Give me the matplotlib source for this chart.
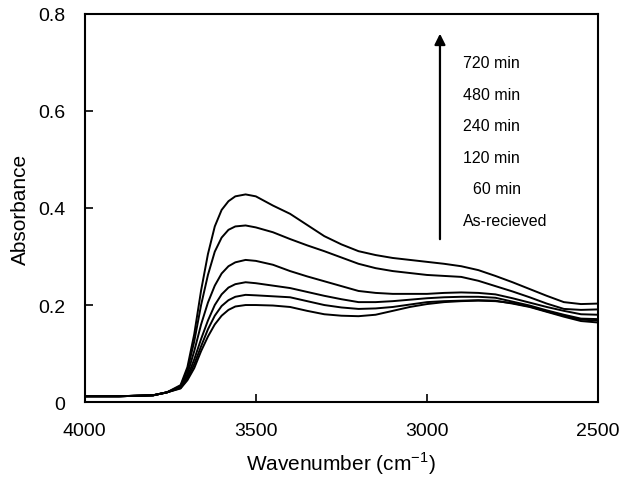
import matplotlib.pyplot as plt
import numpy as np

plt.rcParams['font.family'] = ['Liberation Sans', 'DejaVu Sans']
plt.rcParams['mathtext.fontset'] = 'custom'
plt.rcParams['mathtext.rm'] = 'Liberation Sans'

# wavenumber grid (cm-1)
wn = [4000, 3900, 3800, 3760, 3720, 3700, 3680, 3660, 3640, 3620, 3600, 3580,
      3560, 3530, 3500, 3450, 3400, 3350, 3300, 3250, 3200, 3150, 3100, 3050,
      3000, 2950, 2900, 2850, 2800, 2750, 2700, 2650, 2600, 2550, 2500]

abs_720 = [0.012, 0.012, 0.014, 0.020, 0.035, 0.072, 0.140, 0.230, 0.305, 0.362,
           0.396, 0.414, 0.424, 0.428, 0.424, 0.405, 0.388, 0.365, 0.342, 0.325,
           0.311, 0.303, 0.297, 0.293, 0.289, 0.285, 0.280, 0.272, 0.260, 0.247,
           0.233, 0.219, 0.206, 0.202, 0.203]
abs_480 = [0.012, 0.012, 0.014, 0.020, 0.033, 0.066, 0.125, 0.200, 0.262, 0.310,
           0.339, 0.355, 0.362, 0.364, 0.360, 0.350, 0.336, 0.323, 0.311, 0.298,
           0.285, 0.276, 0.270, 0.266, 0.262, 0.260, 0.258, 0.250, 0.239, 0.228,
           0.216, 0.203, 0.192, 0.190, 0.191]
abs_240 = [0.012, 0.012, 0.014, 0.020, 0.031, 0.058, 0.105, 0.160, 0.205, 0.240,
           0.265, 0.280, 0.288, 0.293, 0.291, 0.283, 0.270, 0.259, 0.249, 0.239,
           0.229, 0.225, 0.223, 0.223, 0.223, 0.225, 0.226, 0.225, 0.222, 0.214,
           0.205, 0.196, 0.188, 0.181, 0.180]
abs_120 = [0.012, 0.012, 0.014, 0.020, 0.030, 0.052, 0.088, 0.130, 0.168, 0.200,
           0.222, 0.236, 0.243, 0.247, 0.245, 0.240, 0.235, 0.227, 0.219, 0.212,
           0.206, 0.206, 0.208, 0.211, 0.214, 0.216, 0.217, 0.217, 0.215, 0.207,
           0.199, 0.189, 0.180, 0.172, 0.171]
abs_60 = [0.012, 0.012, 0.014, 0.020, 0.029, 0.048, 0.078, 0.115, 0.150, 0.178,
          0.198, 0.210, 0.217, 0.221, 0.220, 0.218, 0.216, 0.208, 0.200, 0.195,
          0.192, 0.193, 0.196, 0.201, 0.206, 0.208, 0.209, 0.210, 0.209, 0.203,
          0.196, 0.186, 0.176, 0.167, 0.164]
abs_asrec = [0.012, 0.012, 0.014, 0.020, 0.028, 0.045, 0.070, 0.105, 0.135, 0.160,
             0.178, 0.190, 0.197, 0.200, 0.200, 0.199, 0.196, 0.188, 0.181, 0.178,
             0.177, 0.180, 0.188, 0.196, 0.202, 0.206, 0.208, 0.209, 0.208, 0.204,
             0.197, 0.187, 0.178, 0.170, 0.168]

series = [abs_720, abs_480, abs_240, abs_120, abs_60, abs_asrec]
labels = ['720 min', '480 min', '240 min', '120 min', '60 min', 'As-recieved']

fig = plt.figure(figsize=(6.23, 4.81), dpi=100)
ax = fig.add_axes([0.136, 0.162, 0.824, 0.807])

for s in series:
    ax.plot(wn, s, color='black', lw=1.4)

ax.set_xlim(4000, 2500)
ax.set_ylim(0, 0.8)
ax.set_xticks([4000, 3500, 3000, 2500])
ax.set_yticks([0, 0.2, 0.4, 0.6, 0.8])
ax.set_yticklabels(['0', '0.2', '0.4', '0.6', '0.8'])
ax.tick_params(axis='x', direction='in', length=6, width=1.2, labelsize=14, pad=14)
ax.tick_params(axis='y', direction='in', length=6, width=1.2, labelsize=14, pad=14)
for sp in ax.spines.values():
    sp.set_linewidth(1.5)

ax.set_xlabel(r'Wavenumber (cm$^{-1}$)', fontsize=15, labelpad=8)
ax.set_ylabel('Absorbance', fontsize=15, labelpad=6)

# arrow and labels
ax.annotate('', xy=(2962, 0.765), xytext=(2962, 0.33),
            arrowprops=dict(arrowstyle='-|>', lw=1.6, color='black', mutation_scale=16))
label_y = [0.699, 0.633, 0.569, 0.505, 0.441, 0.375]
for lab, yy in zip(labels, label_y):
    xx = 2866 if lab == '60 min' else 2895
    ax.text(xx, yy, lab, fontsize=11.5, ha='left', va='center')

fig.savefig('out.png', dpi=100)
